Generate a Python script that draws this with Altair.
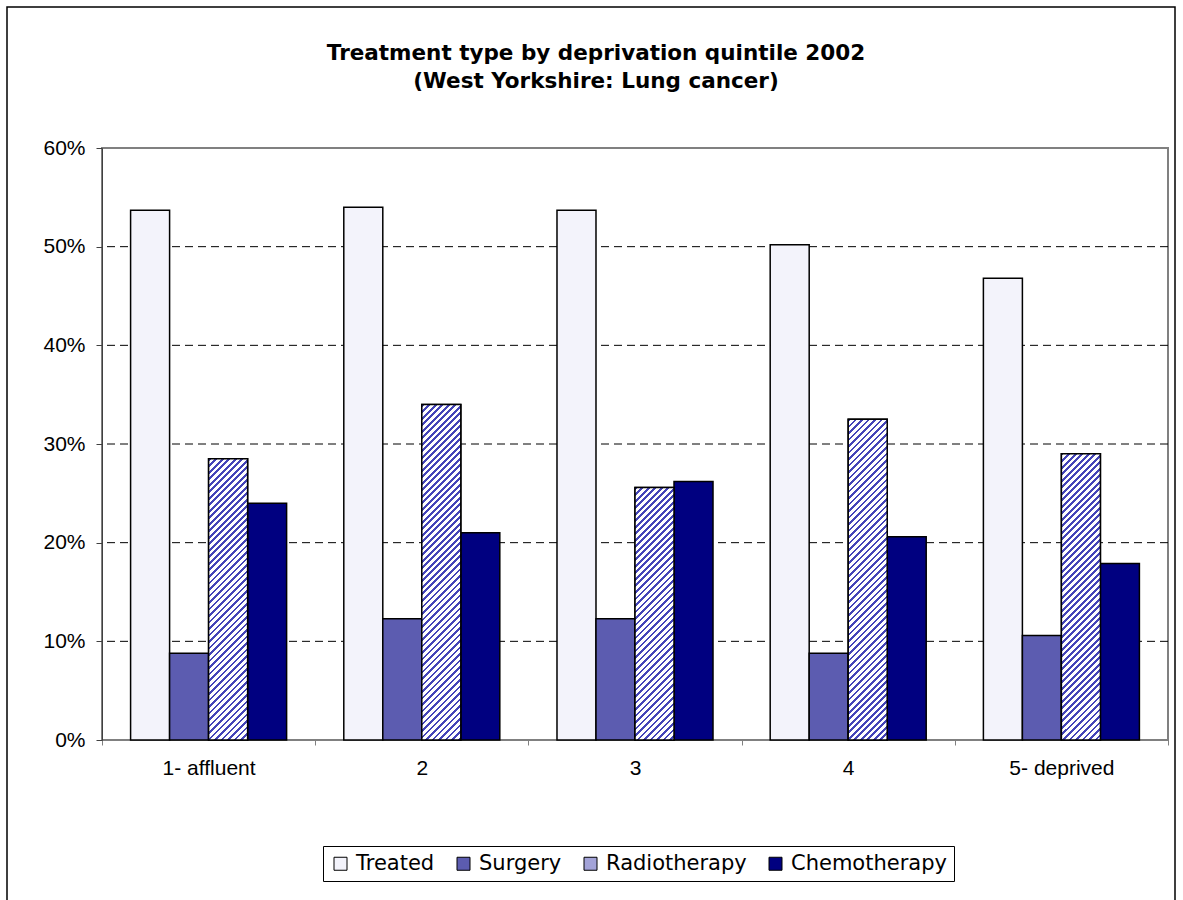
import math
import altair as alt
import pandas as pd

# ---------------- data ----------------
groups = ["1- affluent", "2", "3", "4", "5- deprived"]
series = ["Treated", "Surgery", "Radiotherapy", "Chemotherapy"]
treated = [53.7, 54.0, 53.7, 50.2, 46.8]
surgery = [8.8, 12.3, 12.3, 8.8, 10.6]
radiotherapy = [28.5, 34.0, 25.6, 32.5, 29.0]
chemotherapy = [24.0, 21.0, 26.2, 20.6, 17.9]
y_ticks = [0, 10, 20, 30, 40, 50, 60]
grid_values = [10, 20, 30, 40, 50]
title_lines = ["Treatment type by deprivation quintile 2002",
               "(West Yorkshire: Lung cancer)"]

# ---------------- styling ----------------
fills = ["#f3f3fb", "#5c5cb0", "#a3a3d8", "#000080"]
stripe_blue = "#4444b8"
PLOT_W, PLOT_H = 1066, 592
Y_MAX = 60
OFF_PAD = 0.733
LABEL_FONT = "Liberation Sans"

rows = []
for s, vals in zip(series, [treated, surgery, radiotherapy, chemotherapy]):
    for g, v in zip(groups, vals):
        rows.append({"group": g, "series": s, "value": v})
df = pd.DataFrame(rows)

x_enc = alt.X(
    "group:N", sort=groups,
    scale=alt.Scale(domain=groups, paddingInner=0, paddingOuter=0),
    axis=alt.Axis(title=None, labelAngle=0, tickBand="extent",
                  domainColor="#808080", tickColor="#808080", tickSize=5,
                  labelPadding=12, labelFont=LABEL_FONT, labelFontSize=21,
                  labelColor="black"),
)
xo_enc = alt.XOffset(
    "series:N", sort=series,
    scale=alt.Scale(domain=series, paddingInner=0, paddingOuter=OFF_PAD),
)
y_axis = alt.Axis(values=y_ticks, labelExpr="datum.value + '%'", title=None,
                  grid=False, domainColor="#404040", tickColor="#404040",
                  tickSize=6, labelPadding=11, labelFont=LABEL_FONT,
                  labelFontSize=21, labelColor="black")
y_scale = alt.Scale(domain=[0, Y_MAX], nice=False, zero=True)

one_row = pd.DataFrame({"k": [0]})

# outer frame of the whole chart
frame = alt.Chart(one_row).mark_rect(
    filled=False, stroke="black", strokeWidth=1.5
).encode(x=alt.value(-95), x2=alt.value(1073), y=alt.value(-141), y2=alt.value(770))

# title lines (drawn as text so the frame does not push them away)
title_layers = []
for line, ypos in zip(title_lines, [-88, -60]):
    title_layers.append(
        alt.Chart(one_row).mark_text(
            text=line, font="DejaVu Sans", fontSize=21.5, fontWeight="bold",
            align="center", baseline="alphabetic", color="black",
        ).encode(x=alt.value(494), y=alt.value(ypos))
    )

# dashed gridlines
grid = alt.Chart(pd.DataFrame({"value": grid_values})).mark_rule(
    color="black", strokeWidth=1, strokeDash=[8, 5]
).encode(y=alt.Y("value:Q", scale=y_scale, axis=y_axis))

# bars
bars = alt.Chart(df).mark_bar(stroke="black", strokeWidth=1.5, opacity=1).encode(
    x=x_enc,
    xOffset=xo_enc,
    y=alt.Y("value:Q", scale=y_scale, axis=y_axis),
    fill=alt.Fill(
        "series:N", sort=series,
        scale=alt.Scale(domain=series, range=fills),
        legend=alt.Legend(
            orient="none", legendX=221, legendY=698, direction="horizontal",
            columns=4, title=None, strokeColor="black", fillColor="white",
            padding=7, labelFont="DejaVu Sans", labelFontSize=21,
            labelColor="black", symbolType="square", symbolSize=169,
            symbolStrokeColor="black", symbolStrokeWidth=1, labelOffset=5,
            columnPadding=18, symbolOpacity=1,
        ),
    ),
)

# diagonal hatching for the Radiotherapy bars (linear gradient stripes)
bar_w = (PLOT_W / len(groups)) / (len(series) + 2 * OFF_PAD)
period = 4.6  # perpendicular stripe period in px
blue_frac = 0.42


def stripes(value):
    h = value / Y_MAX * PLOT_H
    r = bar_w / h
    s = (r + 1) / (r * r + 1)
    span = (bar_w + h) / math.sqrt(2)
    n = span / period
    stops = []
    k = 0
    while k / n < 1:
        a = k / n
        b = min((k + blue_frac) / n, 1)
        c = min((k + 1) / n, 1)
        stops += [alt.GradientStop(offset=round(a, 5), color=stripe_blue),
                  alt.GradientStop(offset=round(b, 5), color=stripe_blue),
                  alt.GradientStop(offset=round(b, 5), color="white"),
                  alt.GradientStop(offset=round(c, 5), color="white")]
        k += 1
    return alt.Gradient(gradient="linear", x1=0, y1=0,
                        x2=round(s * r, 5), y2=round(s, 5), stops=stops)


hatch_layers = []
for g, v in zip(groups, radiotherapy):
    hatch_layers.append(
        alt.Chart(df).transform_filter(
            (alt.datum.series == "Radiotherapy") & (alt.datum.group == g)
        ).mark_bar(fill=stripes(v), stroke="black", strokeWidth=1.5, opacity=1)
        .encode(x=x_enc, xOffset=xo_enc,
                y=alt.Y("value:Q", scale=y_scale, axis=y_axis))
    )

chart = alt.layer(frame, *title_layers, grid, bars, *hatch_layers).properties(
    width=PLOT_W,
    height=PLOT_H,
    autosize=alt.AutoSizeParams(type="none"),
    padding={"left": 102, "top": 148, "right": 15, "bottom": 160},
    background="white",
).configure_view(stroke="#808080", strokeWidth=2)

chart.save("out.html", embed_options={"renderer": "svg", "actions": False})
